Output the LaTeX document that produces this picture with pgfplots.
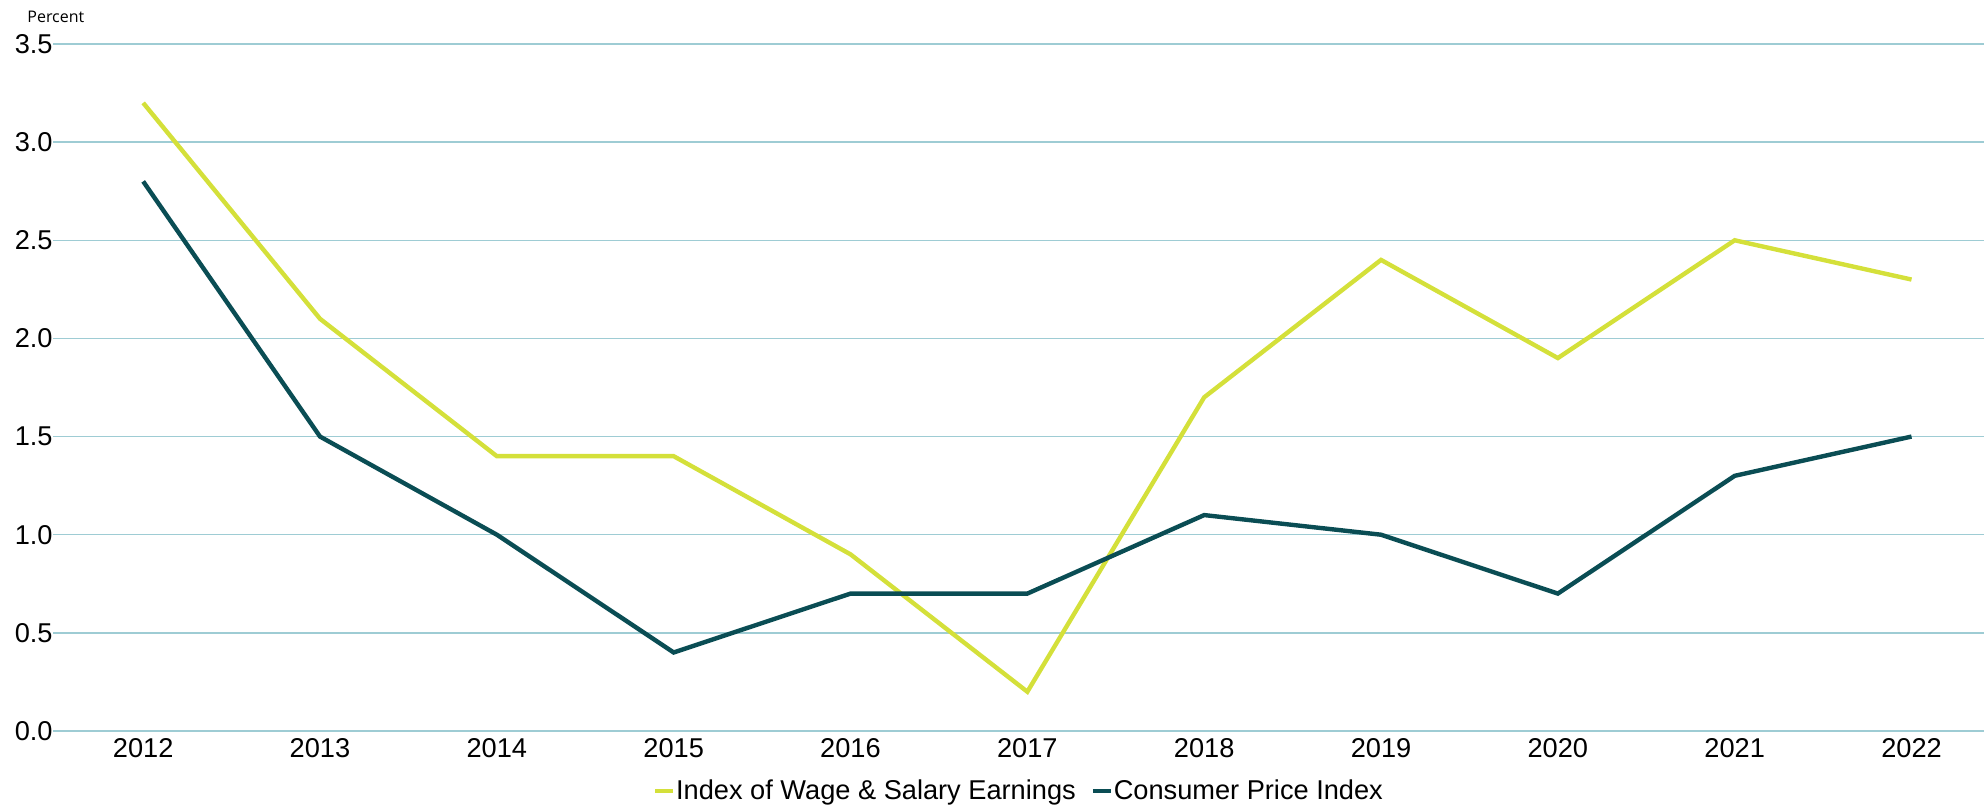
\documentclass[border=0pt]{standalone}
\usepackage{fontspec}
\setmainfont{Liberation Sans}
\newfontfamily\smallfont{Open Sans}
\usepackage{pgfplots}
\pgfplotsset{compat=1.18}
\definecolor{wage}{RGB}{212,224,58}
\definecolor{cpi}{RGB}{10,77,84}
\definecolor{gridc}{RGB}{158,204,212}
\begin{document}
\begin{tikzpicture}
\begin{axis}[
  at={(26.5pt,38pt)}, anchor=south west,
  scale only axis, width=965.5pt, height=343.5pt,
  xmin=2011.49, xmax=2022.41, ymin=0, ymax=3.5,
  xtick={2012,2013,...,2022},
  ytick={0,0.5,...,3.5},
  axis line style={draw=none},
  major tick length=0pt,
  ymajorgrids, grid style={gridc, line width=0.75pt},
  tick label style={font=\fontsize{13.6}{16}\selectfont},
  /pgf/number format/assume math mode=true,
  xticklabel style={/pgf/number format/1000 sep={}, inner sep=0pt, yshift=-3.5pt},
  yticklabel style={/pgf/number format/.cd, fixed, fixed zerofill, precision=1, /tikz/.cd, inner sep=0pt, xshift=0pt},
  clip=false,
  legend style={at={(0.5,-0.0873)}, anchor=center, draw=none, fill=none,
    legend columns=2, font=\fontsize{13.6}{16}\selectfont,
    nodes={inner sep=0.5pt}, /tikz/every even column/.append style={column sep=7pt}},
  legend image code/.code={\draw[#1, line width=2pt] (0pt,0pt) -- (9pt,0pt);},
]
\addplot[wage, line width=2.2pt, mark=none] coordinates {
(2012,3.2) (2013,2.1) (2014,1.4) (2015,1.4) (2016,0.9) (2017,0.2) (2018,1.7) (2019,2.4) (2020,1.9) (2021,2.5) (2022,2.3)};
\addlegendentry{Index of Wage \& Salary Earnings}
\addplot[cpi, line width=2.2pt, mark=none] coordinates {
(2012,2.8) (2013,1.5) (2014,1.0) (2015,0.4) (2016,0.7) (2017,0.7) (2018,1.1) (2019,1.0) (2020,0.7) (2021,1.3) (2022,1.5)};
\addlegendentry{Consumer Price Index}
\end{axis}
\node[anchor=west, inner sep=0pt, font=\smallfont\fontsize{8}{9}\selectfont] at (13.5pt,395pt) {Percent};
\pgfresetboundingbox
\path (0,0) rectangle (992pt,403.5pt);
\end{tikzpicture}
\end{document}
